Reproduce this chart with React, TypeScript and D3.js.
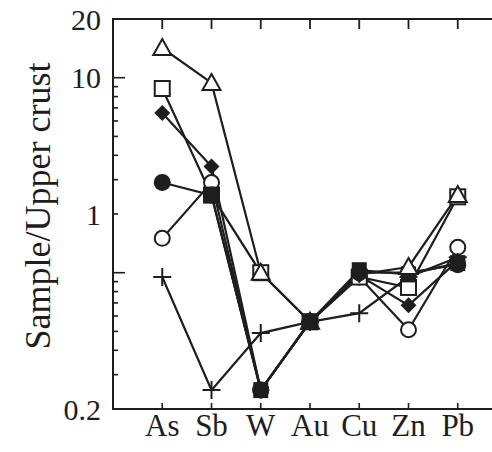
import * as d3 from "d3";
import React from "react";

// element order along the x axis
const elements = ["As", "Sb", "W", "Au", "Cu", "Zn", "Pb"];

// sample / upper crust ratios, one array per sample (null = not plotted)
const openTriangle = [14.2, 9.4, 1.0, 0.56, 0.98, 1.07, 2.5];
const openSquare = [8.8, 2.5, 1.0, 0.56, 0.95, 0.84, 2.45];
const filledDiamond = [6.6, 3.5, 0.25, 0.56, 0.97, 0.68, 1.15];
const filledCircle = [2.9, 2.5, 0.25, 0.56, 1.0, 1.0, 1.1];
const openCircle = [1.5, 2.9, 0.25, 0.56, 0.95, 0.51, 1.35];
const plusSign = [0.95, 0.25, 0.49, 0.56, 0.62, 0.95, 1.2];
const filledSquare = [null, 2.5, 0.25, 0.56, 1.03, 0.98, 1.12];

const majorTicks = [1, 10];
const minorTicks = [0.3, 0.4, 0.5, 0.6, 0.7, 0.8, 0.9, 2, 3, 4, 5, 6, 7, 8, 9];
// the "1" label sits beside the 2 tick in the original figure
const yLabels = [
  { text: "20", at: 20 },
  { text: "10", at: 10 },
  { text: "1", at: 2 },
  { text: "0.2", at: 0.2 },
];

// layer overrides: which marker sits on top / underneath at a given element
const series = [
  { values: plusSign, marker: "plus", layers: {} },
  { values: openCircle, marker: "openCircle", layers: {} },
  { values: openSquare, marker: "openSquare", layers: {} },
  { values: filledSquare, marker: "filledSquare", layers: { Au: 2 } },
  { values: filledDiamond, marker: "diamond", layers: {} },
  { values: filledCircle, marker: "filledCircle", layers: {} },
  { values: openTriangle, marker: "triangle", layers: { Cu: 0 } },
];

const ink = "#1e1e1e";

function Marker({ kind, x, y }: { kind: string; x: number; y: number }) {
  switch (kind) {
    case "triangle":
      return (
        <path
          d={`M${x},${y - 9} L${x + 9},${y + 7} L${x - 9},${y + 7} Z`}
          fill="white"
          stroke={ink}
          strokeWidth={2}
        />
      );
    case "openSquare":
      return <rect x={x - 7.5} y={y - 7.5} width={15} height={15} fill="white" stroke={ink} strokeWidth={2} />;
    case "filledSquare":
      return <rect x={x - 7.5} y={y - 8} width={15} height={16} fill={ink} />;
    case "diamond":
      return <path d={`M${x},${y - 8} L${x + 8},${y} L${x},${y + 8} L${x - 8},${y} Z`} fill={ink} />;
    case "filledCircle":
      return <circle cx={x} cy={y} r={8.5} fill={ink} />;
    case "openCircle":
      return <circle cx={x} cy={y} r={7.5} fill="white" stroke={ink} strokeWidth={2} />;
    case "plus":
      return (
        <path
          d={`M${x - 9},${y} H${x + 9} M${x},${y - 9} V${y + 9}`}
          stroke={ink}
          strokeWidth={2}
        />
      );
    default:
      return null;
  }
}

export default function App() {
  const width = 492;
  const height = 452;
  const margin = { left: 113, top: 19, bottom: 43 };
  const plotRight = 507; // frame runs past the picture edge

  const x = d3
    .scalePoint<string>()
    .domain(elements)
    .range([margin.left, plotRight])
    .padding(1);
  const y = d3
    .scaleLog()
    .domain([0.2, 20])
    .range([height - margin.bottom, margin.top]);

  const line = d3
    .line<number | null>()
    .defined((d) => d != null)
    .x((_, i) => x(elements[i]) as number)
    .y((d) => y(d as number));

  const font = "'Times New Roman', 'Liberation Serif', serif";
  const bottom = height - margin.bottom;

  const points: { key: string; kind: string; px: number; py: number; layer: number; order: number }[] = [];
  series.forEach((s, i) =>
    s.values.forEach((v, j) => {
      if (v == null) return;
      const layers = s.layers as Record<string, number>;
      points.push({
        key: `p${i}-${j}`,
        kind: s.marker,
        px: x(elements[j]) as number,
        py: y(v),
        layer: layers[elements[j]] ?? 1,
        order: points.length,
      });
    })
  );
  const ordered = points.slice().sort((a, b) => a.layer - b.layer || a.order - b.order);

  return (
    <svg
      width={width}
      height={height}
      style={{ position: "absolute", left: 0, top: 0, background: "white" }}
    >
      {/* frame */}
      <path
        d={`M${plotRight},${margin.top} H${margin.left} V${bottom} H${plotRight}`}
        fill="none"
        stroke={ink}
        strokeWidth={2}
      />

      {/* y ticks */}
      {majorTicks.map((t) => (
        <line key={"M" + t} x1={margin.left} x2={margin.left + 12} y1={y(t)} y2={y(t)} stroke={ink} strokeWidth={1.6} />
      ))}
      {minorTicks.map((t) => (
        <line key={"m" + t} x1={margin.left} x2={margin.left + 5} y1={y(t)} y2={y(t)} stroke={ink} strokeWidth={1.6} />
      ))}
      {yLabels.map((l) => (
        <text
          key={l.text}
          x={margin.left - 12}
          y={y(l.at)}
          textAnchor="end"
          dominantBaseline="central"
          fontFamily={font}
          fontSize={30}
          fill={ink}
        >
          {l.text}
        </text>
      ))}

      {/* x ticks, top and bottom */}
      {elements.map((e) => (
        <g key={e}>
          <line x1={x(e)} x2={x(e)} y1={margin.top} y2={margin.top + 10} stroke={ink} strokeWidth={1.8} />
          <line x1={x(e)} x2={x(e)} y1={bottom} y2={bottom - 6} stroke={ink} strokeWidth={1.6} />
          <text
            x={x(e)}
            y={bottom + 27}
            textAnchor="middle"
            fontFamily={font}
            fontSize={31}
            fill={ink}
          >
            {e}
          </text>
        </g>
      ))}

      <text
        transform={`translate(38,${(margin.top + bottom) / 2 - 8}) rotate(-90)`}
        textAnchor="middle"
        dominantBaseline="central"
        fontFamily={font}
        fontSize={36}
        fill={ink}
      >
        Sample/Upper crust
      </text>

      {/* series lines */}
      {series.map((s, i) => (
        <path key={"l" + i} d={line(s.values) as string} fill="none" stroke={ink} strokeWidth={2.2} />
      ))}
      {/* markers */}
      {ordered.map((p) => (
        <Marker key={p.key} kind={p.kind} x={p.px} y={p.py} />
      ))}
    </svg>
  );
}
